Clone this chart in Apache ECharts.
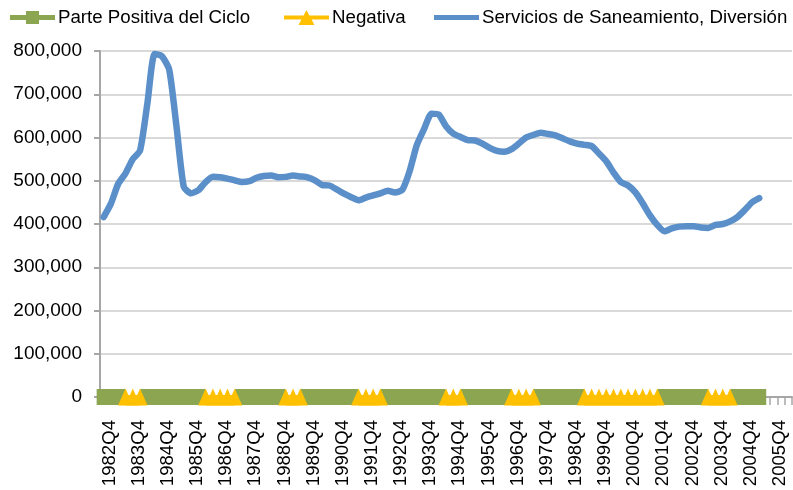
<!DOCTYPE html>
<html>
<head>
<meta charset="utf-8">
<script src="https://cdn.jsdelivr.net/npm/echarts@6/dist/echarts.min.js"></script>
<style>html,body{margin:0;padding:0;background:#fff}#c{width:793px;height:490px}</style>
</head>
<body>
<div id="c"></div>
<script>
var categories = [
 '1982Q4',
 '1983Q1','1983Q2','1983Q3','1983Q4',
 '1984Q1','1984Q2','1984Q3','1984Q4',
 '1985Q1','1985Q2','1985Q3','1985Q4',
 '1986Q1','1986Q2','1986Q3','1986Q4',
 '1987Q1','1987Q2','1987Q3','1987Q4',
 '1988Q1','1988Q2','1988Q3','1988Q4',
 '1989Q1','1989Q2','1989Q3','1989Q4',
 '1990Q1','1990Q2','1990Q3','1990Q4',
 '1991Q1','1991Q2','1991Q3','1991Q4',
 '1992Q1','1992Q2','1992Q3','1992Q4',
 '1993Q1','1993Q2','1993Q3','1993Q4',
 '1994Q1','1994Q2','1994Q3','1994Q4',
 '1995Q1','1995Q2','1995Q3','1995Q4',
 '1996Q1','1996Q2','1996Q3','1996Q4',
 '1997Q1','1997Q2','1997Q3','1997Q4',
 '1998Q1','1998Q2','1998Q3','1998Q4',
 '1999Q1','1999Q2','1999Q3','1999Q4',
 '2000Q1','2000Q2','2000Q3','2000Q4',
 '2001Q1','2001Q2','2001Q3','2001Q4',
 '2002Q1','2002Q2','2002Q3','2002Q4',
 '2003Q1','2003Q2','2003Q3','2003Q4',
 '2004Q1','2004Q2','2004Q3','2004Q4',
 '2005Q1','2005Q2','2005Q3','2005Q4',
 '2006Q1','2006Q2'
];

// Servicios de Saneamiento, Diversión (1982Q4 .. 2005Q2)
var servicios = [
 416000,
 447000,493000,517000,550000,
 570000,678000,793000,788000,
 757000,626000,486000,471000,
 478000,497000,509000,508000,
 505000,501000,497000,499000,
 507000,511000,512000,508000,
 509000,512000,510000,508000,
 501000,490000,489000,480000,
 470000,462000,455000,461000,
 466000,471000,477000,473000,
 479000,522000,583000,620000,
 655000,653000,626000,609000,
 601000,594000,593000,586000,
 576000,569000,567000,573000,
 586000,600000,606000,611000,
 608000,605000,598000,591000,
 586000,583000,580000,563000,
 545000,519000,497000,489000,
 473000,448000,420000,398000,
 383000,390000,394000,395000,
 395000,392000,391000,398000,
 400000,406000,416000,432000,
 450000,460000
];

// Cycle phase per quarter: 'P' positive, 'N' negative
var phase = [
 'P',
 'P','P','N','N',
 'N','P','P','P',
 'P','P','P','P',
 'P','N','N','N',
 'N','N','P','P',
 'P','P','P','P',
 'N','N','N','P',
 'P','P','P','P',
 'P','P','N','N',
 'N','N','P','P',
 'P','P','P','P',
 'P','P','N','N',
 'N','P','P','P',
 'P','P','P','N',
 'N','N','N','P',
 'P','P','P','P',
 'P','N','N','N',
 'N','N','N','N',
 'N','N','N','N',
 'P','P','P','P',
 'P','P','N','N',
 'N','N','P','P',
 'P','P'
];

var yTicks = [0, 100000, 200000, 300000, 400000, 500000, 600000, 700000, 800000];

var positiva = phase.map(function (p) { return p === 'P' ? 0 : null; });
var negativa = phase.map(function (p) { return p === 'N' ? 0 : null; });

var FONT = "'Liberation Sans', Arial, sans-serif";
var GREEN = '#8CA551', YELLOW = '#FFC000', BLUE = '#5B8FC9', AXIS = '#a6a6a6';
var NAMES = ['Parte Positiva del Ciclo', 'Negativa', 'Servicios de Saneamiento, Diversión'];
var ICONS = [
  'path://M0,5H16V1H29V5H45V10H29V14H16V10H0Z',
  'path://M0,5.5H19.6L22.5,0L25.4,5.5H45V9.5H27.6L30.5,15H14.5L17.4,9.5H0Z',
  'path://M0,5H45V10H0Z'
];

function legendAt(left, k) {
  return {
    left: left, top: 8, padding: 0,
    itemWidth: 45, itemHeight: 15,
    textStyle: {fontFamily: FONT, fontSize: 18.7, color: '#000', padding: [0, 0, 0, -2]},
    data: [{name: NAMES[k], icon: ICONS[k]}]
  };
}

var chart = echarts.init(document.getElementById('c'), null, {renderer: 'canvas'});
chart.setOption({
  animation: false,
  backgroundColor: '#fff',
  textStyle: {fontFamily: FONT},
  legend: [legendAt(10, 0), legendAt(284, 1), legendAt(434, 2)],
  grid: {left: 100, right: 1, top: 51, bottom: 93, containLabel: false},
  xAxis: {
    type: 'category',
    data: categories,
    boundaryGap: true,
    axisLine: {show: true, lineStyle: {color: AXIS, width: 2}},
    axisTick: {show: true, interval: 0, length: 8, lineStyle: {color: AXIS, width: 1.5}},
    axisLabel: {rotate: 90, interval: 3, margin: 23, fontSize: 18.6, color: '#000', fontFamily: FONT,
      verticalAlign: 'top', lineHeight: 12},
    splitLine: {show: false}
  },
  yAxis: {
    type: 'value',
    min: yTicks[0], max: yTicks[yTicks.length - 1], interval: 100000,
    axisLine: {show: true, lineStyle: {color: AXIS, width: 2}},
    axisTick: {show: true, length: 6, lineStyle: {color: AXIS, width: 2}},
    axisLabel: {margin: 18, fontSize: 19, color: '#000', fontFamily: FONT,
      formatter: function (v) { return v.toLocaleString('en-US'); }},
    splitLine: {show: true, lineStyle: {color: '#d9d9d9', width: 2}}
  },
  series: [
    {
      name: NAMES[0], type: 'line', data: positiva,
      symbol: 'rect', symbolSize: [14, 16], showSymbol: true, showAllSymbol: true,
      lineStyle: {color: GREEN, width: 5}, itemStyle: {color: GREEN, borderWidth: 0},
      connectNulls: false, z: 3
    },
    {
      name: NAMES[1], type: 'line', data: negativa,
      symbol: 'triangle', symbolSize: [15, 17], showSymbol: true, showAllSymbol: true,
      lineStyle: {color: YELLOW, width: 4}, itemStyle: {color: YELLOW, borderWidth: 0},
      connectNulls: false, z: 4
    },
    {
      name: NAMES[2], type: 'line', data: servicios,
      symbol: 'none', smooth: 0.2,
      lineStyle: {color: BLUE, width: 6.5, cap: 'round', join: 'round'}, itemStyle: {color: BLUE},
      z: 5
    }
  ]
});
</script>
</body>
</html>
